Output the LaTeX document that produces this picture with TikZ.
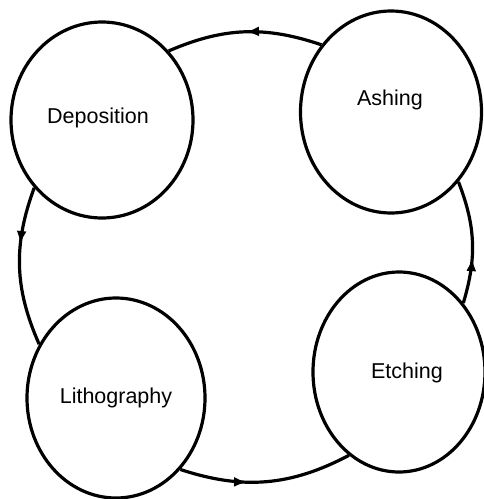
\documentclass[tikz,border=0pt]{standalone}
\usepackage{fontspec}
\setmainfont{Liberation Sans}
\usetikzlibrary{shapes.geometric,arrows.meta,decorations.markings}
\begin{document}
\begin{tikzpicture}[x=1pt,y=-1pt,
  stage/.style={ellipse,draw,line width=3.2pt,inner sep=0pt,fill=white},
  lbl/.style={font=\fontsize{21.5}{25}\selectfont,inner sep=0pt},
  flow/.style={line width=3.2pt,postaction={decorate},
    decoration={markings,mark=at position #1 with {\arrow{Latex[length=13pt,width=10pt]}}}}
]
\useasboundingbox (0,0) rectangle (483,499);
\node[stage,minimum width=182pt,minimum height=196pt] (dep) at (102,120) {};
\node[stage,minimum width=181pt,minimum height=202pt] (ash) at (391,112) {};
\node[stage,minimum width=178pt,minimum height=200pt] (lit) at (116,398) {};
\node[stage,minimum width=172pt,minimum height=200pt] (etc) at (399,372) {};
\node[lbl] (tdep) at (98,118) {Deposition};
\node[lbl] (tash) at (390,100) {Ashing};
\node[lbl] (tlit) at (116,398) {Lithography};
\node[lbl] (tetc) at (407,373) {Etching};
\draw[flow=0.49] (ash.136) to[bend right=21] (dep.46);
\draw[flow=0.36] (dep.225) to[bend right=22] (lit.145);
\draw[flow=0.39] (lit.-48) to[bend right=23] (etc.239);
\draw[flow=0.37] (etc.47) to[bend right=19] (ash.-46);
\end{tikzpicture}
\end{document}
